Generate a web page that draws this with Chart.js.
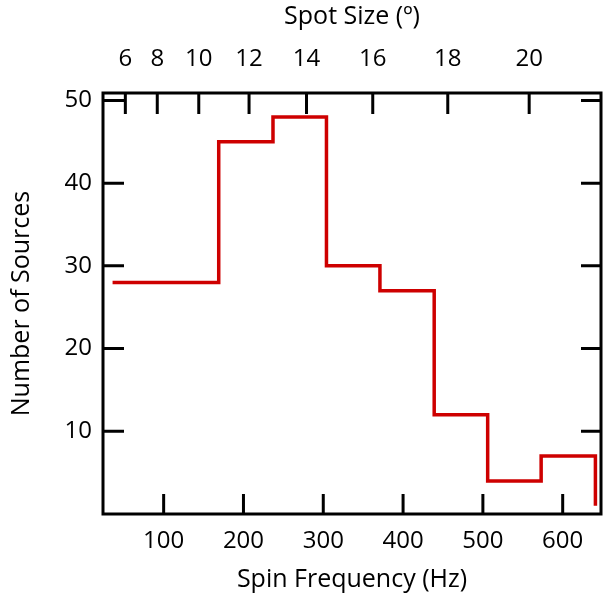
<!DOCTYPE html>
<html>
<head>
<meta charset="utf-8">
<script src="https://cdn.jsdelivr.net/npm/chart.js@4.4.0/dist/chart.umd.min.js"></script>
<style>
  body { margin: 0; background: #fff; }
  #wrap { width: 604px; height: 597px; }
</style>
</head>
<body>
<div id="wrap"><canvas id="chart" width="604" height="597"></canvas></div>
<script>
// histogram bin edges (Hz) and counts; the last entry closes the final bin
const binEdges = [36, 103, 169, 237, 304, 371, 439, 506, 573, 641];
const counts = [28, 28, 45, 48, 30, 27, 12, 4, 7, 1];

const freqTicks = [100, 200, 300, 400, 500, 600];
const countTicks = [10, 20, 30, 40, 50];

// top axis: spot size labels placed at the matching spin frequency
const spotSizes = [6, 8, 10, 12, 14, 16, 18, 20];
const spotFreqs = [52, 92, 144, 207, 279, 362, 456, 558];

const FREQ_MIN = 24, FREQ_MAX = 648;
const COUNT_MAX = 50.9;

Chart.defaults.font.family = '"Open Sans", sans-serif';
Chart.defaults.font.size = 24;
Chart.defaults.color = '#000';

// frame + inward ticks on all four sides
const frame = {
  id: 'frame',
  afterDatasetsDraw(chart) {
    const { ctx, chartArea: a, scales } = chart;
    ctx.save();
    ctx.strokeStyle = '#000';
    ctx.lineWidth = 3;
    ctx.beginPath();
    freqTicks.forEach((v) => {
      const x = scales.x.getPixelForValue(v);
      ctx.moveTo(x, a.bottom);
      ctx.lineTo(x, a.bottom - 20);
    });
    spotFreqs.forEach((v) => {
      const x = scales.x2.getPixelForValue(v);
      ctx.moveTo(x, a.top);
      ctx.lineTo(x, a.top + 21);
    });
    countTicks.forEach((v) => {
      const y = scales.y.getPixelForValue(v);
      ctx.moveTo(a.left, y);
      ctx.lineTo(a.left + 21, y);
      ctx.moveTo(a.right, y);
      ctx.lineTo(a.right - 20, y);
    });
    ctx.stroke();
    ctx.strokeRect(a.left, a.top, a.right - a.left, a.bottom - a.top);
    ctx.restore();
  }
};

const ctx = document.getElementById('chart').getContext('2d');

new Chart(ctx, {
  type: 'line',
  data: {
    datasets: [
      {
        data: binEdges.map((x, i) => ({ x: x, y: counts[i] })),
        stepped: 'before',
        borderColor: 'rgb(206, 0, 0)',
        borderWidth: 3.5,
        pointRadius: 0,
        fill: false,
      },
    ],
  },
  options: {
    responsive: false,
    animation: false,
    layout: { padding: { right: 3 } },
    plugins: {
      legend: { display: false },
      tooltip: { enabled: false },
    },
    scales: {
      x: {
        type: 'linear',
        position: 'bottom',
        min: FREQ_MIN,
        max: FREQ_MAX,
        afterBuildTicks: (scale) => { scale.ticks = freqTicks.map((v) => ({ value: v })); },
        afterFit: (scale) => { scale.height = 83; },
        grid: { display: false, drawTicks: false },
        border: { display: false },
        ticks: { padding: 13, maxRotation: 0, autoSkip: false },
        title: {
          display: true,
          text: 'Spin Frequency (Hz)',
          font: { size: 25 },
          padding: { top: 0, bottom: 2 },
        },
      },
      x2: {
        type: 'linear',
        position: 'top',
        min: FREQ_MIN,
        max: FREQ_MAX,
        afterBuildTicks: (scale) => { scale.ticks = spotFreqs.map((v) => ({ value: v })); },
        afterFit: (scale) => { scale.height = 93; },
        grid: { display: false, drawTicks: false },
        border: { display: false },
        ticks: {
          padding: 19,
          maxRotation: 0,
          autoSkip: false,
          callback: (v, i) => spotSizes[i],
        },
        title: {
          display: true,
          text: 'Spot Size (º)',
          font: { size: 25 },
          padding: { top: 2, bottom: 0 },
        },
      },
      y: {
        type: 'linear',
        position: 'left',
        min: 0,
        max: COUNT_MAX,
        afterBuildTicks: (scale) => { scale.ticks = countTicks.map((v) => ({ value: v })); },
        afterFit: (scale) => { scale.width = 103; },
        grid: { display: false, drawTicks: false },
        border: { display: false },
        ticks: { padding: 11 },
        title: {
          display: true,
          text: 'Number of Sources',
          font: { size: 25 },
          padding: { top: 7, bottom: 0 },
        },
      },
    },
  },
  plugins: [frame],
});
</script>
</body>
</html>
